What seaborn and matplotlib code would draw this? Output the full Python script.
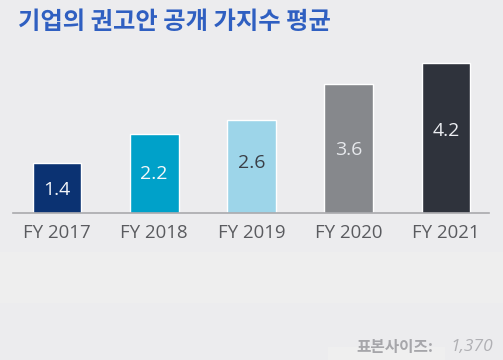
import matplotlib
matplotlib.use('Agg')
import matplotlib.pyplot as plt
import seaborn as sns
import pandas as pd
from matplotlib.patches import Rectangle

years = ['FY 2017', 'FY 2018', 'FY 2019', 'FY 2020', 'FY 2021']
values = [1.4, 2.2, 2.6, 3.6, 4.2]
colors = ['#0b3272', '#00a1c9', '#9dd5e9', '#86888c', '#2f333c']
label_colors = ['#f4f6fa', '#f4f8fa', '#3a3f47', '#e6e8ec', '#eceef2']
# where each value label sits inside its bar (fraction of bar height from the base)
label_frac = [0.46, 0.50, 0.54, 0.49, 0.545]
title = '기업의 권고안 공개 가지수 평균'
sample_label = '표본사이즈:'
sample_size = '1,370'

bg = '#ececee'
sns.set_style('white')
plt.rcParams['font.family'] = ['Open Sans', 'Noto Sans CJK KR', 'DejaVu Sans']

df = pd.DataFrame({'year': years, 'value': values})

fig = plt.figure(figsize=(5.03, 3.6), dpi=100, facecolor=bg)
# lighter bands in the background
fig.patches.append(Rectangle((0, 57 / 360), 1, 51 / 360, transform=fig.transFigure,
                             facecolor='#eeeeee', edgecolor='none', zorder=0))
fig.patches.append(Rectangle((328 / 503, 0), 117 / 503, 13 / 360, transform=fig.transFigure,
                             facecolor='#efefef', edgecolor='none', zorder=0))

ax = fig.add_axes([13 / 503, 147 / 360, 476 / 503, 163 / 360])
ax.set_facecolor('none')
sns.barplot(data=df, x='year', y='value', hue='year', palette=colors, legend=False,
            width=0.5, saturation=1, ax=ax)
ax.set_xlim(-0.452, 4.442)
ax.set_ylim(0, 4.565)

for i, v in enumerate(values):
    ax.text(i, v * label_frac[i], f'{v:.1f}', ha='center', va='center', fontsize=14,
            color=label_colors[i], family='Open Sans')

for s in ['top', 'right', 'left']:
    ax.spines[s].set_visible(False)
ax.spines['bottom'].set_color('#a9a9ad')
ax.spines['bottom'].set_linewidth(1.2)
ax.set_yticks([])
ax.set_xlabel('')
ax.set_ylabel('')
ax.tick_params(axis='x', length=0, pad=8, labelsize=13.4, labelcolor='#5a5b5f')

fig.text(18 / 503, 1 - 22 / 360, title, ha='left', va='center', fontsize=17.5,
         fontweight='bold', color='#2f5fc1', family=['Noto Sans CJK KR', 'DejaVu Sans'])
fig.text(433 / 503, 1 - 347 / 360, sample_label, ha='right', va='center', fontsize=11.3,
         fontweight='bold', color='#a6a6aa', family=['Noto Sans CJK KR', 'DejaVu Sans'])
fig.text(450 / 503, 1 - 347 / 360, sample_size, ha='left', va='center', fontsize=12.5,
         style='italic', color='#b0b0b4', family='Open Sans')

fig.savefig('out.png', dpi=100, facecolor=bg)
